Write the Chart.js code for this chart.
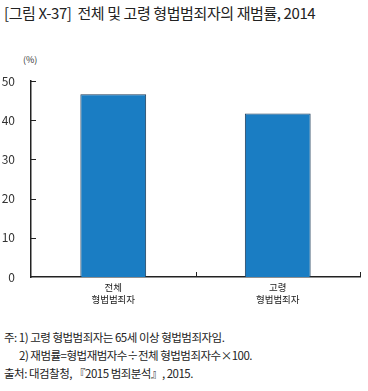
<!DOCTYPE html>
<html>
<head>
<meta charset="utf-8">
<script src="https://cdn.jsdelivr.net/npm/chart.js@4"></script>
<style>
  body { margin: 0; width: 368px; height: 391px; background: #fff; position: relative; overflow: hidden;
         font-family: "Noto Sans CJK KR", "Noto Sans", sans-serif; color: #222; }
  #title { position: absolute; left: 4px; top: 2px; font-size: 15px; letter-spacing: -0.4px; color: #222; }
  #unit { position: absolute; left: 23px; top: 53px; font-size: 9px; color: #333; }
  #chart-box { position: absolute; left: 0; top: 0; width: 368px; height: 310px; }
  .note { position: absolute; left: 4px; font-size: 11.5px; letter-spacing: -0.5px; color: #222; }
</style>
</head>
<body>
<div id="title">[그림 X-37]&nbsp; 전체 및 고령 형법범죄자의 재범률, 2014</div>
<div id="unit">(%)</div>
<div id="chart-box"><canvas id="chart" width="368" height="310"></canvas></div>
<div class="note" style="top:329px">주: 1) 고령 형법범죄자는 65세 이상 형법범죄자임.</div>
<div class="note" style="top:347px; left:19px">2) 재범률=형법재범자수÷전체 형법범죄자수×100.</div>
<div class="note" style="top:365px">출처: 대검찰청, 『2015 범죄분석』, 2015.</div>
<script>
/* Recidivism rate chart */

const categories = [["전체", "형법범죄자"], ["고령", "형법범죄자"]];
const rates = [46.6, 41.7];
const yTicks = [0, 10, 20, 30, 40, 50];

const innerTicks = {
  id: "innerTicks",
  afterDraw(chart) {
    const { ctx, chartArea, scales } = chart;
    ctx.save();
    ctx.strokeStyle = "#222";
    ctx.lineWidth = 1;
    yTicks.slice(1).forEach((v) => {
      const y = Math.round(scales.y.getPixelForValue(v)) + 0.5;
      ctx.beginPath();
      ctx.moveTo(chartArea.left, y);
      ctx.lineTo(chartArea.left + 5, y);
      ctx.stroke();
    });
    const half = (scales.x.getPixelForValue(1) - scales.x.getPixelForValue(0)) / 2;
    categories.forEach((c, i) => {
      const x = Math.round(scales.x.getPixelForValue(i) + half) + 0.5;
      ctx.beginPath();
      ctx.moveTo(x, chartArea.bottom);
      ctx.lineTo(x, chartArea.bottom - 5);
      ctx.stroke();
    });
    ctx.restore();
  },
};

new Chart(document.getElementById("chart"), {
  type: "bar",
  data: {
    labels: categories,
    datasets: [{
      data: rates,
      backgroundColor: "#1a7dc3",
      borderColor: "#1d3c5a",
      borderWidth: 1,
      barPercentage: 0.4,
      categoryPercentage: 1,
    }],
  },
  options: {
    responsive: false,
    animation: false,
    layout: { padding: { top: 81, right: 8, left: 0, bottom: 0 } },
    scales: {
      x: {
        grid: { display: false },
        border: { color: "#222", width: 1.5 },
        ticks: {
          color: "#222",
          font: { family: "Noto Sans CJK KR", size: 9.5 },
          padding: -3,
        },
        afterFit: (s) => { s.height = 33; },
      },
      y: {
        min: 0,
        max: 50,
        grid: { display: false },
        border: { color: "#222", width: 1.5 },
        ticks: {
          stepSize: 10,
          color: "#333",
          font: { family: "Noto Sans CJK KR", size: 12 },
          padding: 8,
        },
        afterFit: (s) => { s.width = 31; },
      },
    },
    plugins: { legend: { display: false }, tooltip: { enabled: false } },
  },
  plugins: [innerTicks],
});
</script>
</body>
</html>
